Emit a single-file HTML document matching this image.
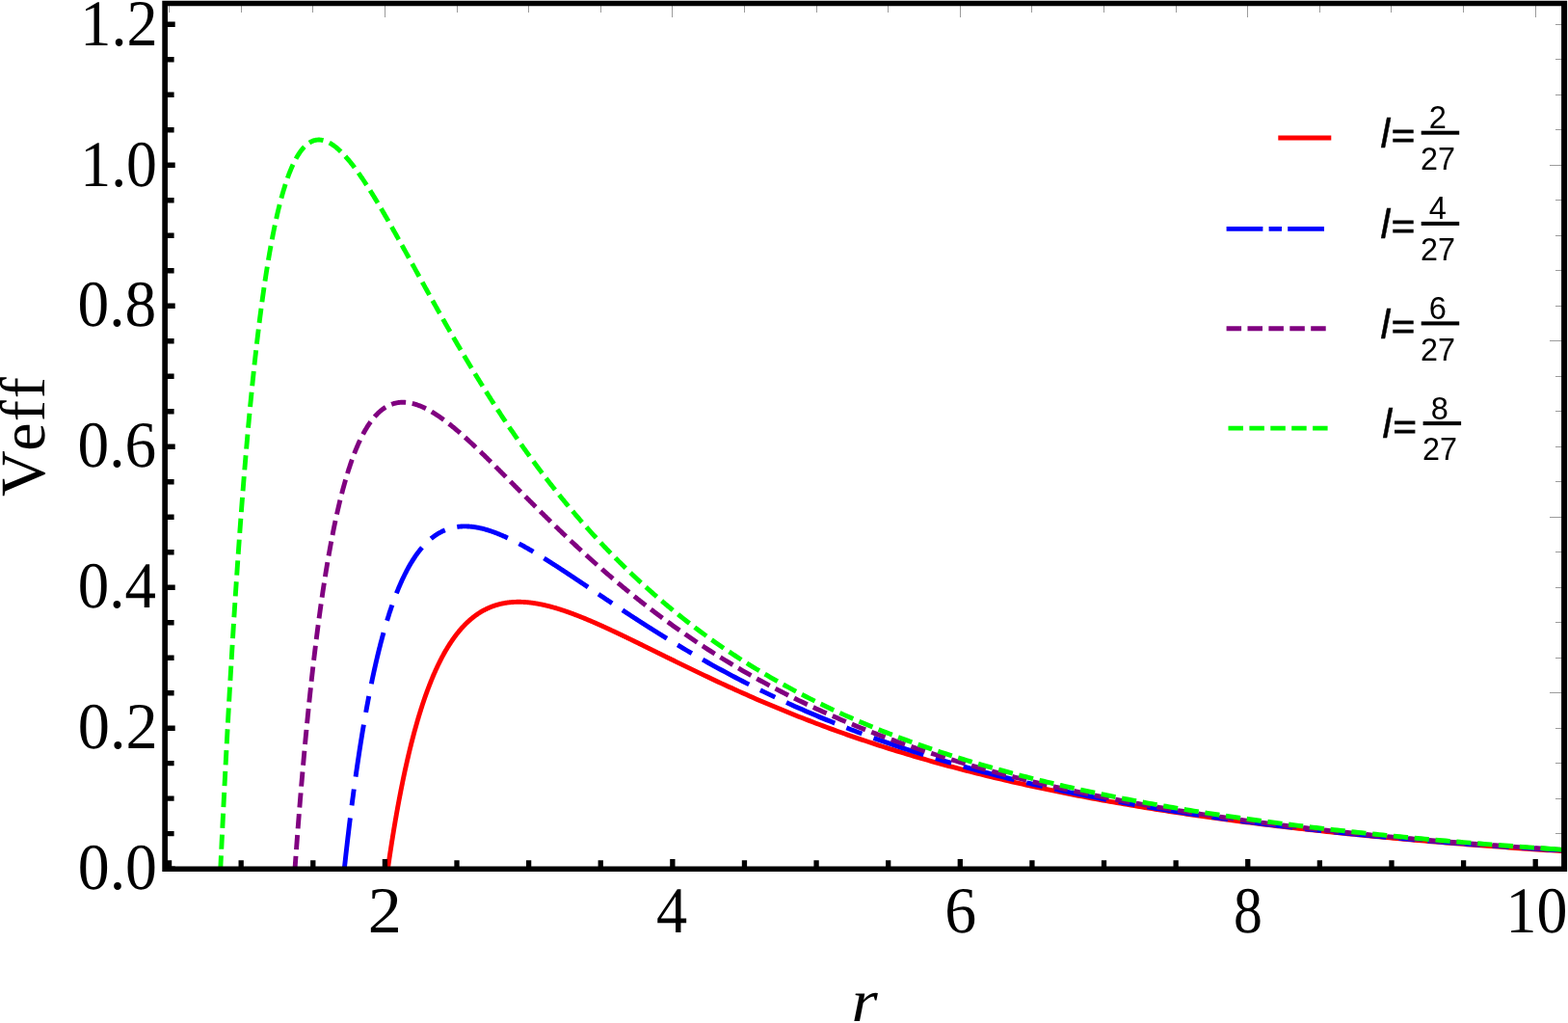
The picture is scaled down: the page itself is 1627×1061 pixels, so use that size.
<!DOCTYPE html>
<html lang="en"><head><meta charset="utf-8"><title>Veff vs r</title>
<style>html,body{margin:0;padding:0;background:#fff;}body{width:1627px;height:1061px;overflow:hidden;}svg{display:block;}.t{font-family:"Liberation Serif","Times New Roman",serif;font-size:66px;fill:#000;font-kerning:none;font-variant-ligatures:none;text-rendering:geometricPrecision;}.l{font-family:"Liberation Sans",Arial,sans-serif;fill:#000;font-kerning:none;font-variant-ligatures:none;}</style></head><body>
<svg width="1627" height="1061" viewBox="0 0 1627 1061">
<rect width="1627" height="1061" fill="#fff"/>
<defs><clipPath id="c"><rect x="171.1" y="3.45" width="1452.1" height="900.25"/></clipPath></defs>
<g clip-path="url(#c)" fill="none" stroke-width="4.9" stroke-linejoin="round">
<path d="M402.06,903.60 L402.48,900.62 L402.91,897.67 L403.33,894.75 L403.75,891.86 L404.18,889.00 L404.60,886.17 L405.02,883.37 L405.45,880.60 L405.87,877.85 L406.29,875.13 L406.72,872.44 L407.14,869.78 L407.56,867.14 L407.99,864.53 L408.41,861.95 L408.83,859.39 L409.26,856.86 L409.68,854.35 L410.10,851.87 L410.53,849.41 L410.95,846.97 L411.37,844.56 L411.80,842.18 L412.22,839.82 L412.64,837.48 L413.07,835.16 L413.49,832.87 L413.91,830.60 L414.34,828.35 L414.76,826.12 L415.18,823.92 L415.61,821.74 L416.03,819.57 L416.45,817.43 L416.88,815.32 L417.30,813.22 L417.72,811.14 L418.15,809.08 L418.57,807.04 L418.99,805.03 L419.42,803.03 L419.84,801.05 L420.26,799.09 L420.69,797.15 L421.11,795.23 L421.53,793.33 L421.96,791.44 L422.38,789.58 L422.80,787.73 L423.23,785.90 L423.65,784.08 L424.07,782.29 L424.50,780.51 L424.92,778.75 L425.34,777.01 L425.77,775.28 L426.19,773.57 L426.61,771.88 L427.04,770.20 L427.46,768.54 L427.88,766.90 L428.31,765.27 L428.73,763.66 L429.15,762.06 L429.58,760.48 L430.00,758.91 L430.42,757.36 L430.84,755.82 L431.27,754.30 L431.69,752.79 L432.11,751.30 L432.54,749.82 L432.96,748.36 L433.38,746.91 L433.81,745.47 L434.23,744.05 L434.65,742.64 L435.08,741.24 L435.50,739.86 L435.92,738.50 L436.35,737.14 L436.77,735.80 L437.19,734.47 L437.62,733.15 L438.04,731.85 L438.46,730.56 L438.89,729.28 L439.31,728.02 L439.73,726.76 L440.16,725.52 L440.58,724.29 L441.00,723.07 L441.43,721.87 L441.85,720.68 L442.27,719.49 L442.70,718.32 L443.12,717.16 L443.54,716.02 L443.97,714.88 L444.39,713.75 L444.81,712.64 L445.24,711.53 L445.66,710.44 L446.08,709.36 L446.51,708.29 L446.93,707.23 L447.35,706.18 L447.78,705.13 L448.20,704.10 L448.62,703.08 L449.05,702.07 L449.47,701.07 L449.89,700.08 L450.32,699.10 L450.74,698.13 L451.16,697.17 L451.59,696.22 L452.01,695.28 L452.43,694.35 L452.86,693.42 L453.28,692.51 L453.70,691.60 L454.13,690.71 L454.55,689.82 L454.97,688.94 L455.40,688.07 L455.82,687.21 L456.24,686.36 L456.67,685.52 L457.09,684.68 L457.51,683.86 L457.94,683.04 L458.36,682.23 L458.78,681.43 L459.21,680.64 L459.63,679.85 L460.05,679.07 L460.48,678.31 L460.90,677.54 L461.32,676.79 L461.74,676.05 L462.17,675.31 L462.59,674.58 L463.01,673.86 L463.44,673.14 L463.86,672.43 L464.28,671.73 L464.71,671.04 L465.13,670.36 L465.55,669.68 L465.98,669.01 L466.40,668.34 L466.82,667.69 L467.25,667.04 L467.67,666.39 L468.09,665.76 L468.52,665.13 L468.94,664.51 L469.36,663.89 L469.79,663.28 L470.21,662.68 L470.63,662.08 L471.06,661.49 L471.48,660.91 L471.90,660.33 L472.33,659.76 L472.75,659.20 L473.17,658.64 L473.60,658.09 L474.02,657.54 L474.44,657.01 L474.87,656.47 L475.29,655.94 L475.71,655.42 L476.14,654.91 L476.56,654.40 L476.98,653.89 L477.41,653.40 L477.83,652.90 L478.25,652.42 L478.68,651.94 L479.10,651.46 L479.52,650.99 L479.95,650.53 L480.37,650.07 L480.79,649.61 L481.22,649.17 L481.64,648.72 L482.06,648.29 L482.49,647.85 L482.91,647.43 L483.33,647.00 L483.76,646.59 L484.18,646.18 L484.60,645.77 L485.03,645.37 L485.45,644.97 L485.87,644.58 L486.30,644.19 L486.72,643.81 L487.14,643.43 L487.57,643.06 L487.99,642.69 L488.41,642.33 L488.84,641.97 L489.26,641.62 L489.68,641.27 L490.11,640.92 L490.53,640.58 L490.95,640.25 L491.38,639.91 L491.80,639.59 L492.22,639.27 L492.65,638.95 L493.07,638.63 L493.49,638.32 L493.91,638.02 L494.34,637.72 L494.76,637.42 L495.18,637.13 L495.61,636.84 L496.03,636.55 L496.45,636.27 L496.88,636.00 L497.30,635.73 L497.72,635.46 L498.15,635.19 L498.57,634.93 L498.99,634.68 L499.42,634.42 L499.84,634.17 L500.26,633.93 L500.69,633.69 L501.11,633.45 L501.53,633.21 L501.96,632.98 L502.38,632.76 L502.80,632.53 L503.23,632.31 L503.65,632.10 L504.07,631.89 L504.50,631.68 L504.92,631.47 L505.34,631.27 L505.77,631.07 L506.19,630.88 L506.61,630.68 L507.04,630.49 L507.46,630.31 L507.88,630.13 L508.31,629.95 L508.73,629.77 L509.15,629.60 L509.58,629.43 L510.00,629.27 L510.42,629.10 L510.85,628.95 L511.27,628.79 L511.69,628.64 L512.12,628.49 L512.54,628.34 L512.96,628.19 L513.39,628.05 L513.81,627.91 L514.23,627.78 L514.66,627.65 L515.08,627.52 L515.50,627.39 L515.93,627.27 L516.35,627.15 L516.77,627.03 L517.20,626.91 L517.62,626.80 L518.04,626.69 L518.47,626.58 L518.89,626.48 L519.31,626.38 L519.74,626.28 L520.16,626.18 L520.58,626.09 L521.01,626.00 L521.43,625.91 L521.85,625.82 L522.28,625.74 L522.70,625.66 L523.12,625.58 L523.55,625.51 L523.97,625.43 L524.39,625.36 L524.81,625.29 L525.24,625.23 L525.66,625.16 L526.08,625.10 L526.51,625.04 L526.93,624.99 L527.35,624.93 L527.78,624.88 L528.20,624.83 L528.62,624.79 L529.05,624.74 L529.47,624.70 L529.89,624.66 L530.32,624.62 L530.74,624.58 L531.16,624.55 L531.59,624.52 L532.01,624.49 L532.43,624.46 L532.86,624.44 L533.28,624.41 L533.70,624.39 L534.13,624.37 L534.55,624.35 L534.97,624.34 L535.40,624.33 L535.82,624.32 L536.24,624.31 L536.67,624.30 L537.09,624.29 L537.51,624.29 L537.94,624.29 L538.36,624.29 L538.78,624.29 L539.21,624.30 L539.63,624.30 L540.05,624.31 L540.48,624.32 L540.90,624.33 L541.32,624.35 L541.75,624.36 L542.17,624.38 L542.59,624.40 L543.02,624.42 L543.44,624.44 L543.86,624.47 L544.29,624.49 L544.71,624.52 L545.13,624.55 L545.56,624.58 L545.98,624.61 L546.40,624.65 L546.83,624.68 L547.25,624.72 L547.67,624.76 L548.10,624.80 L548.52,624.84 L548.94,624.89 L549.37,624.93 L549.79,624.98 L550.21,625.03 L550.64,625.08 L551.06,625.13 L551.48,625.18 L551.91,625.24 L552.33,625.30 L552.75,625.35 L553.18,625.41 L553.60,625.47 L554.02,625.54 L554.45,625.60 L554.87,625.66 L555.29,625.73 L555.72,625.80 L556.14,625.87 L556.56,625.94 L556.98,626.01 L557.41,626.08 L557.83,626.16 L558.25,626.23 L558.68,626.31 L559.10,626.39 L559.52,626.47 L559.95,626.55 L560.37,626.63 L560.79,626.71 L561.22,626.80 L561.64,626.88 L562.06,626.97 L562.49,627.06 L562.91,627.15 L563.33,627.24 L563.76,627.33 L564.18,627.43 L564.60,627.52 L565.03,627.62 L565.45,627.71 L565.87,627.81 L566.30,627.91 L566.72,628.01 L567.14,628.11 L567.57,628.21 L567.99,628.32 L568.41,628.42 L568.84,628.53 L569.26,628.64 L569.68,628.74 L570.11,628.85 L570.53,628.96 L570.95,629.07 L571.38,629.19 L571.80,629.30 L572.22,629.41 L572.65,629.53 L573.07,629.64 L573.49,629.76 L573.92,629.88 L574.34,630.00 L574.76,630.12 L575.19,630.24 L575.61,630.36 L576.03,630.48 L576.46,630.61 L576.88,630.73 L577.30,630.86 L577.73,630.99 L578.15,631.11 L578.57,631.24 L579.00,631.37 L579.42,631.50 L579.84,631.63 L580.27,631.76 L580.69,631.90 L581.11,632.03 L581.54,632.17 L581.96,632.30 L582.38,632.44 L582.81,632.57 L583.23,632.71 L583.65,632.85 L584.08,632.99 L584.50,633.13 L584.92,633.27 L585.35,633.41 L585.77,633.56 L586.19,633.70 L586.62,633.84 L587.04,633.99 L587.46,634.13 L587.88,634.28 L588.31,634.43 L588.73,634.58 L589.15,634.72 L589.58,634.87 L590.00,635.02 L590.42,635.17 L590.85,635.33 L591.27,635.48 L591.69,635.63 L592.12,635.78 L592.54,635.94 L592.96,636.09 L593.39,636.25 L593.81,636.40 L594.23,636.56 L594.66,636.72 L595.08,636.88 L595.50,637.04 L595.93,637.20 L596.35,637.36 L596.77,637.52 L597.20,637.68 L597.62,637.84 L598.04,638.00 L598.47,638.16 L598.89,638.33 L599.31,638.49 L599.74,638.66 L600.16,638.82 L600.58,638.99 L601.01,639.16 L601.43,639.32 L601.85,639.49 L602.28,639.66 L602.70,639.83 L603.12,640.00 L603.55,640.17 L603.97,640.34 L604.39,640.51 L604.82,640.68 L605.24,640.85 L605.66,641.02 L606.09,641.20 L606.51,641.37 L606.93,641.54 L607.36,641.72 L607.78,641.89 L608.20,642.07 L608.63,642.24 L609.05,642.42 L609.47,642.60 L609.90,642.77 L610.32,642.95 L610.74,643.13 L611.17,643.31 L611.59,643.49 L612.01,643.67 L612.44,643.85 L612.86,644.03 L613.28,644.21 L613.71,644.39 L614.13,644.57 L614.55,644.75 L614.98,644.93 L615.40,645.12 L615.82,645.30 L616.25,645.48 L616.67,645.67 L617.09,645.85 L617.52,646.04 L617.94,646.22 L618.36,646.41 L618.79,646.59 L619.21,646.78 L619.63,646.96 L620.05,647.15 L620.48,647.34 L620.90,647.53 L621.32,647.71 L621.75,647.90 L622.17,648.09 L622.59,648.28 L623.02,648.47 L623.44,648.66 L623.86,648.85 L624.29,649.04 L624.71,649.23 L625.13,649.42 L625.56,649.61 L625.98,649.80 L626.40,650.00 L626.83,650.19 L627.25,650.38 L627.67,650.57 L628.10,650.77 L628.52,650.96 L628.94,651.15 L629.37,651.35 L629.79,651.54 L630.21,651.73 L630.64,651.93 L631.06,652.12 L631.48,652.32 L631.91,652.52 L632.33,652.71 L632.75,652.91 L633.18,653.10 L633.60,653.30 L634.02,653.50 L634.45,653.69 L634.87,653.89 L635.29,654.09 L635.72,654.29 L636.14,654.48 L636.56,654.68 L636.99,654.88 L637.41,655.08 L637.83,655.28 L638.26,655.48 L638.68,655.68 L639.10,655.87 L639.53,656.07 L639.95,656.27 L640.37,656.47 L640.80,656.67 L641.22,656.87 L641.64,657.08 L642.07,657.28 L642.49,657.48 L642.91,657.68 L643.34,657.88 L643.76,658.08 L644.18,658.28 L644.61,658.48 L645.03,658.69 L645.45,658.89 L645.88,659.09 L646.30,659.29 L646.72,659.50 L647.15,659.70 L647.57,659.90 L647.99,660.10 L648.42,660.31 L648.84,660.51 L649.26,660.71 L649.69,660.92 L650.11,661.12 L650.53,661.33 L650.95,661.53 L651.38,661.73 L651.80,661.94 L652.22,662.14 L652.65,662.35 L653.07,662.55 L653.49,662.76 L653.92,662.96 L654.34,663.17 L654.76,663.37 L655.19,663.58 L655.61,663.78 L656.03,663.99 L656.46,664.20 L656.88,664.40 L657.30,664.61 L657.73,664.81 L658.15,665.02 L658.57,665.22 L659.00,665.43 L659.42,665.64 L659.84,665.84 L660.27,666.05 L660.69,666.26 L661.11,666.46 L661.54,666.67 L661.96,666.88 L662.38,667.08 L662.81,667.29 L663.23,667.50 L663.65,667.71 L664.08,667.91 L664.50,668.12 L664.92,668.33 L665.35,668.53 L665.77,668.74 L666.19,668.95 L666.62,669.16 L667.04,669.36 L667.46,669.57 L667.89,669.78 L668.31,669.99 L668.73,670.20 L669.16,670.40 L669.58,670.61 L670.00,670.82 L670.43,671.03 L670.85,671.23 L671.27,671.44 L671.70,671.65 L672.12,671.86 L672.54,672.07 L672.97,672.28 L673.39,672.48 L673.81,672.69 L674.24,672.90 L674.66,673.11 L675.08,673.32 L675.51,673.53 L675.93,673.73 L676.35,673.94 L676.78,674.15 L677.20,674.36 L677.62,674.57 L678.05,674.78 L678.47,674.98 L678.89,675.19 L679.32,675.40 L679.74,675.61 L680.16,675.82 L680.59,676.03 L681.01,676.23 L681.43,676.44 L681.86,676.65 L682.28,676.86 L682.70,677.07 L683.12,677.28 L683.55,677.49 L683.97,677.69 L684.39,677.90 L684.82,678.11 L685.24,678.32 L685.66,678.53 L686.09,678.74 L686.51,678.94 L686.93,679.15 L687.36,679.36 L687.78,679.57 L688.20,679.78 L688.63,679.99 L689.05,680.19 L689.47,680.40 L689.90,680.61 L690.32,680.82 L690.74,681.03 L691.17,681.23 L691.59,681.44 L692.01,681.65 L692.44,681.86 L692.86,682.07 L693.28,682.27 L693.71,682.48 L694.13,682.69 L694.55,682.90 L694.98,683.11 L695.40,683.31 L695.82,683.52 L696.25,683.73 L696.67,683.94 L697.09,684.14 L697.52,684.35 L697.94,684.56 L701.57,686.34 L705.20,688.11 L708.83,689.88 L712.46,691.64 L716.09,693.39 L719.72,695.14 L723.35,696.89 L726.98,698.62 L730.61,700.35 L734.24,702.07 L737.87,703.78 L741.50,705.48 L745.13,707.18 L748.76,708.86 L752.39,710.53 L756.01,712.20 L759.64,713.85 L763.27,715.49 L766.90,717.13 L770.53,718.75 L774.16,720.36 L777.79,721.96 L781.42,723.55 L785.05,725.13 L788.68,726.69 L792.31,728.25 L795.94,729.79 L799.57,731.32 L803.20,732.84 L806.83,734.35 L810.46,735.85 L814.09,737.33 L817.72,738.81 L821.35,740.27 L824.98,741.72 L828.61,743.16 L832.24,744.59 L835.87,746.00 L839.50,747.40 L843.13,748.80 L846.76,750.18 L850.39,751.54 L854.02,752.90 L857.65,754.25 L861.28,755.58 L864.91,756.90 L868.53,758.21 L872.16,759.51 L875.79,760.80 L879.42,762.08 L883.05,763.34 L886.68,764.59 L890.31,765.84 L893.94,767.07 L897.57,768.29 L901.20,769.50 L904.83,770.70 L908.46,771.89 L912.09,773.07 L915.72,774.24 L919.35,775.39 L922.98,776.54 L926.61,777.68 L930.24,778.80 L933.87,779.92 L937.50,781.03 L941.13,782.12 L944.76,783.21 L948.39,784.28 L952.02,785.35 L955.65,786.41 L959.28,787.45 L962.91,788.49 L966.54,789.52 L970.17,790.54 L973.80,791.55 L977.43,792.55 L981.05,793.54 L984.68,794.52 L988.31,795.49 L991.94,796.46 L995.57,797.41 L999.20,798.36 L1002.83,799.30 L1006.46,800.23 L1010.09,801.15 L1013.72,802.06 L1017.35,802.97 L1020.98,803.86 L1024.61,804.75 L1028.24,805.63 L1031.87,806.50 L1035.50,807.37 L1039.13,808.23 L1042.76,809.07 L1046.39,809.92 L1050.02,810.75 L1053.65,811.58 L1057.28,812.39 L1060.91,813.20 L1064.54,814.01 L1068.17,814.81 L1071.80,815.59 L1075.43,816.38 L1079.06,817.15 L1082.69,817.92 L1086.32,818.68 L1089.94,819.44 L1093.57,820.19 L1097.20,820.93 L1100.83,821.66 L1104.46,822.39 L1108.09,823.11 L1111.72,823.83 L1115.35,824.54 L1118.98,825.24 L1122.61,825.94 L1126.24,826.63 L1129.87,827.31 L1133.50,827.99 L1137.13,828.66 L1140.76,829.33 L1144.39,829.99 L1148.02,830.64 L1151.65,831.29 L1155.28,831.94 L1158.91,832.57 L1162.54,833.21 L1166.17,833.83 L1169.80,834.45 L1173.43,835.07 L1177.06,835.68 L1180.69,836.29 L1184.32,836.89 L1187.95,837.48 L1191.58,838.07 L1195.21,838.66 L1198.84,839.24 L1202.46,839.81 L1206.09,840.38 L1209.72,840.95 L1213.35,841.51 L1216.98,842.06 L1220.61,842.61 L1224.24,843.16 L1227.87,843.70 L1231.50,844.24 L1235.13,844.77 L1238.76,845.30 L1242.39,845.82 L1246.02,846.34 L1249.65,846.85 L1253.28,847.36 L1256.91,847.87 L1260.54,848.37 L1264.17,848.87 L1267.80,849.36 L1271.43,849.85 L1275.06,850.34 L1278.69,850.82 L1282.32,851.30 L1285.95,851.77 L1289.58,852.24 L1293.21,852.71 L1296.84,853.17 L1300.47,853.63 L1304.10,854.08 L1307.73,854.53 L1311.36,854.98 L1314.98,855.42 L1318.61,855.86 L1322.24,856.30 L1325.87,856.73 L1329.50,857.16 L1333.13,857.59 L1336.76,858.01 L1340.39,858.43 L1344.02,858.84 L1347.65,859.26 L1351.28,859.66 L1354.91,860.07 L1358.54,860.47 L1362.17,860.87 L1365.80,861.27 L1369.43,861.66 L1373.06,862.05 L1376.69,862.44 L1380.32,862.82 L1383.95,863.20 L1387.58,863.58 L1391.21,863.95 L1394.84,864.33 L1398.47,864.70 L1402.10,865.06 L1405.73,865.42 L1409.36,865.78 L1412.99,866.14 L1416.62,866.50 L1420.25,866.85 L1423.88,867.20 L1427.50,867.54 L1431.13,867.89 L1434.76,868.23 L1438.39,868.57 L1442.02,868.90 L1445.65,869.24 L1449.28,869.57 L1452.91,869.90 L1456.54,870.22 L1460.17,870.55 L1463.80,870.87 L1467.43,871.19 L1471.06,871.50 L1474.69,871.82 L1478.32,872.13 L1481.95,872.44 L1485.58,872.74 L1489.21,873.05 L1492.84,873.35 L1496.47,873.65 L1500.10,873.95 L1503.73,874.24 L1507.36,874.54 L1510.99,874.83 L1514.62,875.12 L1518.25,875.40 L1521.88,875.69 L1525.51,875.97 L1529.14,876.25 L1532.77,876.53 L1536.40,876.81 L1540.02,877.08 L1543.65,877.35 L1547.28,877.62 L1550.91,877.89 L1554.54,878.16 L1558.17,878.42 L1561.80,878.68 L1565.43,878.95 L1569.06,879.20 L1572.69,879.46 L1576.32,879.72 L1579.95,879.97 L1583.58,880.22 L1587.21,880.47 L1590.84,880.72 L1594.47,880.96 L1598.10,881.21 L1601.73,881.45 L1605.36,881.69 L1608.99,881.93 L1612.62,882.17 L1616.25,882.40 L1619.88,882.64 L1623.51,882.87 L1627.14,883.10 L1630.77,883.33 L1634.40,883.56 L1638.03,883.78" stroke="#ff0000"/>
<path d="M357.03,903.60 L357.52,899.08 L358.01,894.61 L358.49,890.19 L358.98,885.82 L359.47,881.50 L359.96,877.22 L360.44,872.99 L360.93,868.81 L361.42,864.67 L361.91,860.58 L362.39,856.53 L362.88,852.52 L363.37,848.57 L363.86,844.65 L364.35,840.78 L364.83,836.95 L365.32,833.16 L365.81,829.41 L366.30,825.71 L366.78,822.04 L367.27,818.42 L367.76,814.84 L368.25,811.29 L368.73,807.79 L369.22,804.32 L369.71,800.89 L370.20,797.50 L370.69,794.15 L371.17,790.84 L371.66,787.56 L372.15,784.32 L372.64,781.11 L373.12,777.94 L373.61,774.81 L374.10,771.71 L374.59,768.64 L375.08,765.61 L375.56,762.62 L376.05,759.65 L376.54,756.72 L377.03,753.83 L377.51,750.96 L378.00,748.13 L378.49,745.33 L378.98,742.56 L379.46,739.83 L379.95,737.12 L380.44,734.44 L380.93,731.80 L381.42,729.18 L381.90,726.60 L382.39,724.04 L382.88,721.51 L383.37,719.01 L383.85,716.54 L384.34,714.10 L384.83,711.69 L385.32,709.30 L385.80,706.94 L386.29,704.61 L386.78,702.31 L387.27,700.03 L387.76,697.78 L388.24,695.55 L388.73,693.35 L389.22,691.18 L389.71,689.03 L390.19,686.90 L390.68,684.80 L391.17,682.73 L391.66,680.68 L392.15,678.65 L392.63,676.65 L393.12,674.67 L393.61,672.71 L394.10,670.78 L394.58,668.87 L395.07,666.98 L395.56,665.11 L396.05,663.27 L396.53,661.45 L397.02,659.65 L397.51,657.87 L398.00,656.11 L398.49,654.37 L398.97,652.66 L399.46,650.96 L399.95,649.29 L400.44,647.64 L400.92,646.00 L401.41,644.39 L401.90,642.79 L402.39,641.22 L402.87,639.66 L403.36,638.13 L403.85,636.61 L404.34,635.11 L404.83,633.63 L405.31,632.17 L405.80,630.72 L406.29,629.29 L406.78,627.89 L407.26,626.49 L407.75,625.12 L408.24,623.76 L408.73,622.43 L409.21,621.10 L409.70,619.80 L410.19,618.51 L410.68,617.24 L411.17,615.98 L411.65,614.74 L412.14,613.51 L412.63,612.31 L413.12,611.11 L413.60,609.94 L414.09,608.77 L414.58,607.63 L415.07,606.49 L415.56,605.38 L416.04,604.27 L416.53,603.19 L417.02,602.11 L417.51,601.05 L417.99,600.01 L418.48,598.98 L418.97,597.96 L419.46,596.96 L419.94,595.97 L420.43,594.99 L420.92,594.03 L421.41,593.08 L421.90,592.14 L422.38,591.22 L422.87,590.31 L423.36,589.41 L423.85,588.52 L424.33,587.65 L424.82,586.79 L425.31,585.94 L425.80,585.10 L426.28,584.28 L426.77,583.47 L427.26,582.67 L427.75,581.88 L428.24,581.10 L428.72,580.33 L429.21,579.58 L429.70,578.83 L430.19,578.10 L430.67,577.38 L431.16,576.67 L431.65,575.97 L432.14,575.28 L432.63,574.60 L433.11,573.93 L433.60,573.27 L434.09,572.62 L434.58,571.99 L435.06,571.36 L435.55,570.74 L436.04,570.13 L436.53,569.53 L437.01,568.94 L437.50,568.36 L437.99,567.80 L438.48,567.23 L438.97,566.68 L439.45,566.14 L439.94,565.61 L440.43,565.09 L440.92,564.57 L441.40,564.06 L441.89,563.57 L442.38,563.08 L442.87,562.60 L443.35,562.13 L443.84,561.66 L444.33,561.21 L444.82,560.76 L445.31,560.33 L445.79,559.90 L446.28,559.47 L446.77,559.06 L447.26,558.65 L447.74,558.25 L448.23,557.86 L448.72,557.48 L449.21,557.10 L449.70,556.74 L450.18,556.38 L450.67,556.02 L451.16,555.68 L451.65,555.34 L452.13,555.01 L452.62,554.68 L453.11,554.36 L453.60,554.05 L454.08,553.75 L454.57,553.45 L455.06,553.16 L455.55,552.88 L456.04,552.60 L456.52,552.33 L457.01,552.07 L457.50,551.81 L457.99,551.56 L458.47,551.31 L458.96,551.07 L459.45,550.84 L459.94,550.62 L460.42,550.40 L460.91,550.18 L461.40,549.97 L461.89,549.77 L462.38,549.57 L462.86,549.38 L463.35,549.20 L463.84,549.02 L464.33,548.84 L464.81,548.67 L465.30,548.51 L465.79,548.35 L466.28,548.20 L466.76,548.06 L467.25,547.91 L467.74,547.78 L468.23,547.65 L468.72,547.52 L469.20,547.40 L469.69,547.28 L470.18,547.17 L470.67,547.07 L471.15,546.96 L471.64,546.87 L472.13,546.78 L472.62,546.69 L473.11,546.61 L473.59,546.53 L474.08,546.46 L474.57,546.39 L475.06,546.32 L475.54,546.27 L476.03,546.21 L476.52,546.16 L477.01,546.11 L477.49,546.07 L477.98,546.03 L478.47,546.00 L478.96,545.97 L479.45,545.95 L479.93,545.92 L480.42,545.91 L480.91,545.89 L481.40,545.88 L481.88,545.88 L482.37,545.88 L482.86,545.88 L483.35,545.89 L483.83,545.90 L484.32,545.91 L484.81,545.93 L485.30,545.95 L485.79,545.97 L486.27,546.00 L486.76,546.03 L487.25,546.07 L487.74,546.11 L488.22,546.15 L488.71,546.20 L489.20,546.25 L489.69,546.30 L490.18,546.36 L490.66,546.41 L491.15,546.48 L491.64,546.54 L492.13,546.61 L492.61,546.68 L493.10,546.76 L493.59,546.84 L494.08,546.92 L494.56,547.00 L495.05,547.09 L495.54,547.18 L496.03,547.27 L496.52,547.37 L497.00,547.47 L497.49,547.57 L497.98,547.67 L498.47,547.78 L498.95,547.89 L499.44,548.00 L499.93,548.12 L500.42,548.24 L500.90,548.36 L501.39,548.48 L501.88,548.61 L502.37,548.74 L502.86,548.87 L503.34,549.00 L503.83,549.14 L504.32,549.28 L504.81,549.42 L505.29,549.56 L505.78,549.71 L506.27,549.86 L506.76,550.01 L507.24,550.16 L507.73,550.32 L508.22,550.47 L508.71,550.63 L509.20,550.79 L509.68,550.96 L510.17,551.13 L510.66,551.29 L511.15,551.46 L511.63,551.64 L512.12,551.81 L512.61,551.99 L513.10,552.17 L513.59,552.35 L514.07,552.53 L514.56,552.72 L515.05,552.90 L515.54,553.09 L516.02,553.28 L516.51,553.48 L517.00,553.67 L517.49,553.87 L517.97,554.07 L518.46,554.27 L518.95,554.47 L519.44,554.67 L519.93,554.88 L520.41,555.08 L520.90,555.29 L521.39,555.50 L521.88,555.72 L522.36,555.93 L522.85,556.15 L523.34,556.36 L523.83,556.58 L524.31,556.80 L524.80,557.02 L525.29,557.25 L525.78,557.47 L526.27,557.70 L526.75,557.93 L527.24,558.16 L527.73,558.39 L528.22,558.62 L528.70,558.85 L529.19,559.09 L529.68,559.33 L530.17,559.56 L530.66,559.80 L531.14,560.04 L531.63,560.29 L532.12,560.53 L532.61,560.78 L533.09,561.02 L533.58,561.27 L534.07,561.52 L534.56,561.77 L535.04,562.02 L535.53,562.27 L536.02,562.53 L536.51,562.78 L537.00,563.04 L537.48,563.29 L537.97,563.55 L538.46,563.81 L538.95,564.07 L539.43,564.33 L539.92,564.60 L540.41,564.86 L540.90,565.13 L541.38,565.39 L541.87,565.66 L542.36,565.93 L542.85,566.20 L543.34,566.47 L543.82,566.74 L544.31,567.01 L544.80,567.28 L545.29,567.56 L545.77,567.83 L546.26,568.11 L546.75,568.39 L547.24,568.66 L547.72,568.94 L548.21,569.22 L548.70,569.50 L549.19,569.79 L549.68,570.07 L550.16,570.35 L550.65,570.63 L551.14,570.92 L551.63,571.21 L552.11,571.49 L552.60,571.78 L553.09,572.07 L553.58,572.36 L554.07,572.65 L554.55,572.94 L555.04,573.23 L555.53,573.52 L556.02,573.81 L556.50,574.10 L556.99,574.40 L557.48,574.69 L557.97,574.99 L558.45,575.28 L558.94,575.58 L559.43,575.88 L559.92,576.18 L560.41,576.48 L560.89,576.77 L561.38,577.07 L561.87,577.37 L562.36,577.68 L562.84,577.98 L563.33,578.28 L563.82,578.58 L564.31,578.89 L564.79,579.19 L565.28,579.49 L565.77,579.80 L566.26,580.11 L566.75,580.41 L567.23,580.72 L567.72,581.03 L568.21,581.33 L568.70,581.64 L569.18,581.95 L569.67,582.26 L570.16,582.57 L570.65,582.88 L571.14,583.19 L571.62,583.50 L572.11,583.81 L572.60,584.12 L573.09,584.44 L573.57,584.75 L574.06,585.06 L574.55,585.37 L575.04,585.69 L575.52,586.00 L576.01,586.32 L576.50,586.63 L576.99,586.95 L577.48,587.26 L577.96,587.58 L578.45,587.90 L578.94,588.21 L579.43,588.53 L579.91,588.85 L580.40,589.17 L580.89,589.48 L581.38,589.80 L581.86,590.12 L582.35,590.44 L582.84,590.76 L583.33,591.08 L583.82,591.40 L584.30,591.72 L584.79,592.04 L585.28,592.36 L585.77,592.68 L586.25,593.00 L586.74,593.32 L587.23,593.64 L587.72,593.97 L588.20,594.29 L588.69,594.61 L589.18,594.93 L589.67,595.26 L590.16,595.58 L590.64,595.90 L591.13,596.23 L591.62,596.55 L592.11,596.87 L592.59,597.20 L593.08,597.52 L593.57,597.85 L594.06,598.17 L594.55,598.50 L595.03,598.82 L595.52,599.15 L596.01,599.47 L596.50,599.80 L596.98,600.12 L597.47,600.45 L597.96,600.77 L598.45,601.10 L598.93,601.42 L599.42,601.75 L599.91,602.08 L600.40,602.40 L600.89,602.73 L601.37,603.05 L601.86,603.38 L602.35,603.71 L602.84,604.03 L603.32,604.36 L603.81,604.69 L604.30,605.01 L604.79,605.34 L605.27,605.67 L605.76,606.00 L606.25,606.32 L606.74,606.65 L607.23,606.98 L607.71,607.30 L608.20,607.63 L608.69,607.96 L609.18,608.29 L609.66,608.61 L610.15,608.94 L610.64,609.27 L611.13,609.60 L611.62,609.92 L612.10,610.25 L612.59,610.58 L613.08,610.91 L613.57,611.23 L614.05,611.56 L614.54,611.89 L615.03,612.22 L615.52,612.54 L616.00,612.87 L616.49,613.20 L616.98,613.53 L617.47,613.85 L617.96,614.18 L618.44,614.51 L618.93,614.84 L619.42,615.16 L619.91,615.49 L620.39,615.82 L620.88,616.15 L621.37,616.47 L621.86,616.80 L622.34,617.13 L622.83,617.45 L623.32,617.78 L623.81,618.11 L624.30,618.43 L624.78,618.76 L625.27,619.09 L625.76,619.41 L626.25,619.74 L626.73,620.07 L627.22,620.39 L627.71,620.72 L628.20,621.04 L628.69,621.37 L629.17,621.70 L629.66,622.02 L630.15,622.35 L630.64,622.67 L631.12,623.00 L631.61,623.32 L632.10,623.65 L632.59,623.98 L633.07,624.30 L633.56,624.63 L634.05,624.95 L634.54,625.27 L635.03,625.60 L635.51,625.92 L636.00,626.25 L636.49,626.57 L636.98,626.90 L637.46,627.22 L637.95,627.54 L638.44,627.87 L638.93,628.19 L639.41,628.51 L639.90,628.84 L640.39,629.16 L640.88,629.48 L641.37,629.81 L641.85,630.13 L642.34,630.45 L642.83,630.77 L643.32,631.10 L643.80,631.42 L644.29,631.74 L644.78,632.06 L645.27,632.38 L645.75,632.70 L646.24,633.03 L646.73,633.35 L647.22,633.67 L647.71,633.99 L648.19,634.31 L648.68,634.63 L649.17,634.95 L649.66,635.27 L650.14,635.59 L650.63,635.91 L651.12,636.23 L651.61,636.55 L652.10,636.87 L652.58,637.18 L653.07,637.50 L653.56,637.82 L654.05,638.14 L654.53,638.46 L655.02,638.77 L655.51,639.09 L656.00,639.41 L656.48,639.73 L656.97,640.04 L657.46,640.36 L657.95,640.68 L658.44,640.99 L658.92,641.31 L659.41,641.63 L659.90,641.94 L660.39,642.26 L660.87,642.57 L661.36,642.89 L661.85,643.20 L662.34,643.52 L662.82,643.83 L663.31,644.15 L663.80,644.46 L664.29,644.77 L664.78,645.09 L665.26,645.40 L665.75,645.71 L666.24,646.03 L666.73,646.34 L667.21,646.65 L667.70,646.96 L668.19,647.27 L668.68,647.59 L669.17,647.90 L669.65,648.21 L670.14,648.52 L670.63,648.83 L671.12,649.14 L671.60,649.45 L672.09,649.76 L672.58,650.07 L673.07,650.38 L673.55,650.69 L674.04,651.00 L674.53,651.31 L675.02,651.61 L675.51,651.92 L675.99,652.23 L676.48,652.54 L676.97,652.85 L677.46,653.15 L677.94,653.46 L678.43,653.77 L678.92,654.07 L679.41,654.38 L679.89,654.69 L680.38,654.99 L680.87,655.30 L681.36,655.60 L681.85,655.91 L682.33,656.21 L682.82,656.51 L683.31,656.82 L683.80,657.12 L684.28,657.43 L684.77,657.73 L685.26,658.03 L685.75,658.34 L686.23,658.64 L686.72,658.94 L687.21,659.24 L687.70,659.54 L688.19,659.84 L688.67,660.15 L689.16,660.45 L689.65,660.75 L690.14,661.05 L690.62,661.35 L691.11,661.65 L691.60,661.95 L692.09,662.25 L692.58,662.54 L693.06,662.84 L693.55,663.14 L694.04,663.44 L694.53,663.74 L695.01,664.03 L695.50,664.33 L695.99,664.63 L696.48,664.93 L696.96,665.22 L697.45,665.52 L697.94,665.81 L701.57,668.01 L705.20,670.18 L708.83,672.34 L712.46,674.49 L716.09,676.61 L719.72,678.72 L723.35,680.82 L726.98,682.90 L730.61,684.96 L734.24,687.00 L737.87,689.03 L741.50,691.04 L745.13,693.03 L748.76,695.00 L752.39,696.96 L756.01,698.91 L759.64,700.83 L763.27,702.74 L766.90,704.63 L770.53,706.50 L774.16,708.36 L777.79,710.20 L781.42,712.02 L785.05,713.83 L788.68,715.62 L792.31,717.40 L795.94,719.15 L799.57,720.89 L803.20,722.62 L806.83,724.33 L810.46,726.02 L814.09,727.70 L817.72,729.36 L821.35,731.01 L824.98,732.64 L828.61,734.25 L832.24,735.85 L835.87,737.43 L839.50,739.00 L843.13,740.55 L846.76,742.09 L850.39,743.62 L854.02,745.13 L857.65,746.62 L861.28,748.10 L864.91,749.57 L868.53,751.02 L872.16,752.46 L875.79,753.88 L879.42,755.29 L883.05,756.68 L886.68,758.07 L890.31,759.44 L893.94,760.79 L897.57,762.13 L901.20,763.46 L904.83,764.78 L908.46,766.08 L912.09,767.37 L915.72,768.65 L919.35,769.92 L922.98,771.17 L926.61,772.41 L930.24,773.64 L933.87,774.86 L937.50,776.06 L941.13,777.26 L944.76,778.44 L948.39,779.61 L952.02,780.77 L955.65,781.91 L959.28,783.05 L962.91,784.18 L966.54,785.29 L970.17,786.39 L973.80,787.49 L977.43,788.57 L981.05,789.64 L984.68,790.70 L988.31,791.75 L991.94,792.79 L995.57,793.82 L999.20,794.84 L1002.83,795.85 L1006.46,796.86 L1010.09,797.85 L1013.72,798.83 L1017.35,799.80 L1020.98,800.76 L1024.61,801.72 L1028.24,802.66 L1031.87,803.60 L1035.50,804.52 L1039.13,805.44 L1042.76,806.35 L1046.39,807.25 L1050.02,808.14 L1053.65,809.02 L1057.28,809.90 L1060.91,810.76 L1064.54,811.62 L1068.17,812.47 L1071.80,813.31 L1075.43,814.14 L1079.06,814.97 L1082.69,815.79 L1086.32,816.60 L1089.94,817.40 L1093.57,818.19 L1097.20,818.98 L1100.83,819.76 L1104.46,820.53 L1108.09,821.30 L1111.72,822.05 L1115.35,822.80 L1118.98,823.55 L1122.61,824.28 L1126.24,825.01 L1129.87,825.74 L1133.50,826.45 L1137.13,827.16 L1140.76,827.86 L1144.39,828.56 L1148.02,829.25 L1151.65,829.93 L1155.28,830.61 L1158.91,831.28 L1162.54,831.94 L1166.17,832.60 L1169.80,833.25 L1173.43,833.90 L1177.06,834.54 L1180.69,835.17 L1184.32,835.80 L1187.95,836.42 L1191.58,837.04 L1195.21,837.65 L1198.84,838.26 L1202.46,838.86 L1206.09,839.45 L1209.72,840.04 L1213.35,840.62 L1216.98,841.20 L1220.61,841.77 L1224.24,842.34 L1227.87,842.91 L1231.50,843.46 L1235.13,844.01 L1238.76,844.56 L1242.39,845.10 L1246.02,845.64 L1249.65,846.17 L1253.28,846.70 L1256.91,847.22 L1260.54,847.74 L1264.17,848.26 L1267.80,848.77 L1271.43,849.27 L1275.06,849.77 L1278.69,850.27 L1282.32,850.76 L1285.95,851.24 L1289.58,851.72 L1293.21,852.20 L1296.84,852.68 L1300.47,853.15 L1304.10,853.61 L1307.73,854.07 L1311.36,854.53 L1314.98,854.98 L1318.61,855.43 L1322.24,855.88 L1325.87,856.32 L1329.50,856.75 L1333.13,857.19 L1336.76,857.62 L1340.39,858.04 L1344.02,858.46 L1347.65,858.88 L1351.28,859.30 L1354.91,859.71 L1358.54,860.11 L1362.17,860.52 L1365.80,860.92 L1369.43,861.31 L1373.06,861.71 L1376.69,862.10 L1380.32,862.48 L1383.95,862.87 L1387.58,863.24 L1391.21,863.62 L1394.84,863.99 L1398.47,864.36 L1402.10,864.73 L1405.73,865.09 L1409.36,865.45 L1412.99,865.81 L1416.62,866.16 L1420.25,866.52 L1423.88,866.86 L1427.50,867.21 L1431.13,867.55 L1434.76,867.89 L1438.39,868.23 L1442.02,868.56 L1445.65,868.89 L1449.28,869.22 L1452.91,869.54 L1456.54,869.86 L1460.17,870.18 L1463.80,870.50 L1467.43,870.81 L1471.06,871.12 L1474.69,871.43 L1478.32,871.74 L1481.95,872.04 L1485.58,872.34 L1489.21,872.64 L1492.84,872.94 L1496.47,873.23 L1500.10,873.52 L1503.73,873.81 L1507.36,874.09 L1510.99,874.38 L1514.62,874.66 L1518.25,874.93 L1521.88,875.21 L1525.51,875.48 L1529.14,875.76 L1532.77,876.02 L1536.40,876.29 L1540.02,876.56 L1543.65,876.82 L1547.28,877.08 L1550.91,877.34 L1554.54,877.59 L1558.17,877.85 L1561.80,878.10 L1565.43,878.35 L1569.06,878.59 L1572.69,878.84 L1576.32,879.08 L1579.95,879.32 L1583.58,879.56 L1587.21,879.80 L1590.84,880.04 L1594.47,880.27 L1598.10,880.50 L1601.73,880.73 L1605.36,880.96 L1608.99,881.18 L1612.62,881.41 L1616.25,881.63 L1619.88,881.85 L1623.51,882.07 L1627.14,882.28 L1630.77,882.50 L1634.40,882.71 L1638.03,882.92" stroke="#0000ff" stroke-dasharray="54.65 13 17.1 12.955" stroke-dashoffset="96.725"/>
<path d="M305.85,903.60 L306.41,895.78 L306.97,888.06 L307.53,880.46 L308.09,872.95 L308.65,865.55 L309.21,858.26 L309.77,851.07 L310.33,843.97 L310.89,836.98 L311.45,830.08 L312.02,823.28 L312.58,816.57 L313.14,809.96 L313.70,803.43 L314.26,797.00 L314.82,790.66 L315.38,784.41 L315.94,778.25 L316.50,772.17 L317.06,766.18 L317.63,760.27 L318.19,754.45 L318.75,748.70 L319.31,743.04 L319.87,737.46 L320.43,731.95 L320.99,726.53 L321.55,721.18 L322.11,715.91 L322.67,710.71 L323.23,705.58 L323.80,700.53 L324.36,695.55 L324.92,690.64 L325.48,685.81 L326.04,681.04 L326.60,676.34 L327.16,671.70 L327.72,667.14 L328.28,662.64 L328.84,658.20 L329.40,653.83 L329.97,649.52 L330.53,645.27 L331.09,641.09 L331.65,636.97 L332.21,632.90 L332.77,628.90 L333.33,624.95 L333.89,621.07 L334.45,617.24 L335.01,613.46 L335.58,609.74 L336.14,606.08 L336.70,602.47 L337.26,598.92 L337.82,595.41 L338.38,591.96 L338.94,588.57 L339.50,585.22 L340.06,581.92 L340.62,578.68 L341.18,575.48 L341.75,572.33 L342.31,569.23 L342.87,566.17 L343.43,563.16 L343.99,560.20 L344.55,557.28 L345.11,554.41 L345.67,551.59 L346.23,548.80 L346.79,546.06 L347.35,543.36 L347.92,540.71 L348.48,538.10 L349.04,535.52 L349.60,532.99 L350.16,530.50 L350.72,528.05 L351.28,525.64 L351.84,523.26 L352.40,520.93 L352.96,518.63 L353.53,516.37 L354.09,514.14 L354.65,511.95 L355.21,509.80 L355.77,507.68 L356.33,505.60 L356.89,503.55 L357.45,501.54 L358.01,499.56 L358.57,497.62 L359.13,495.70 L359.70,493.82 L360.26,491.97 L360.82,490.15 L361.38,488.37 L361.94,486.61 L362.50,484.89 L363.06,483.19 L363.62,481.53 L364.18,479.89 L364.74,478.28 L365.30,476.71 L365.87,475.16 L366.43,473.63 L366.99,472.14 L367.55,470.67 L368.11,469.23 L368.67,467.82 L369.23,466.43 L369.79,465.07 L370.35,463.73 L370.91,462.42 L371.47,461.14 L372.04,459.87 L372.60,458.64 L373.16,457.42 L373.72,456.23 L374.28,455.07 L374.84,453.93 L375.40,452.81 L375.96,451.71 L376.52,450.63 L377.08,449.58 L377.65,448.55 L378.21,447.54 L378.77,446.55 L379.33,445.59 L379.89,444.64 L380.45,443.71 L381.01,442.81 L381.57,441.92 L382.13,441.05 L382.69,440.21 L383.25,439.38 L383.82,438.57 L384.38,437.78 L384.94,437.01 L385.50,436.25 L386.06,435.52 L386.62,434.80 L387.18,434.10 L387.74,433.42 L388.30,432.75 L388.86,432.11 L389.42,431.47 L389.99,430.86 L390.55,430.26 L391.11,429.68 L391.67,429.11 L392.23,428.56 L392.79,428.02 L393.35,427.50 L393.91,427.00 L394.47,426.51 L395.03,426.03 L395.60,425.57 L396.16,425.13 L396.72,424.69 L397.28,424.28 L397.84,423.87 L398.40,423.48 L398.96,423.10 L399.52,422.74 L400.08,422.39 L400.64,422.05 L401.20,421.73 L401.77,421.42 L402.33,421.12 L402.89,420.83 L403.45,420.55 L404.01,420.29 L404.57,420.04 L405.13,419.80 L405.69,419.57 L406.25,419.36 L406.81,419.15 L407.37,418.96 L407.94,418.78 L408.50,418.61 L409.06,418.45 L409.62,418.30 L410.18,418.16 L410.74,418.03 L411.30,417.91 L411.86,417.80 L412.42,417.70 L412.98,417.61 L413.55,417.53 L414.11,417.46 L414.67,417.40 L415.23,417.35 L415.79,417.31 L416.35,417.28 L416.91,417.26 L417.47,417.24 L418.03,417.24 L418.59,417.24 L419.15,417.25 L419.72,417.27 L420.28,417.30 L420.84,417.34 L421.40,417.38 L421.96,417.43 L422.52,417.49 L423.08,417.56 L423.64,417.64 L424.20,417.72 L424.76,417.81 L425.32,417.91 L425.89,418.02 L426.45,418.13 L427.01,418.25 L427.57,418.38 L428.13,418.51 L428.69,418.66 L429.25,418.80 L429.81,418.96 L430.37,419.12 L430.93,419.29 L431.50,419.46 L432.06,419.64 L432.62,419.83 L433.18,420.02 L433.74,420.22 L434.30,420.43 L434.86,420.64 L435.42,420.86 L435.98,421.08 L436.54,421.31 L437.10,421.54 L437.67,421.78 L438.23,422.03 L438.79,422.28 L439.35,422.53 L439.91,422.79 L440.47,423.06 L441.03,423.33 L441.59,423.61 L442.15,423.89 L442.71,424.18 L443.27,424.47 L443.84,424.76 L444.40,425.06 L444.96,425.37 L445.52,425.68 L446.08,425.99 L446.64,426.31 L447.20,426.64 L447.76,426.96 L448.32,427.30 L448.88,427.63 L449.45,427.97 L450.01,428.32 L450.57,428.67 L451.13,429.02 L451.69,429.37 L452.25,429.73 L452.81,430.10 L453.37,430.47 L453.93,430.84 L454.49,431.21 L455.05,431.59 L455.62,431.97 L456.18,432.36 L456.74,432.75 L457.30,433.14 L457.86,433.54 L458.42,433.94 L458.98,434.34 L459.54,434.75 L460.10,435.16 L460.66,435.57 L461.22,435.98 L461.79,436.40 L462.35,436.82 L462.91,437.25 L463.47,437.67 L464.03,438.10 L464.59,438.54 L465.15,438.97 L465.71,439.41 L466.27,439.85 L466.83,440.29 L467.40,440.74 L467.96,441.19 L468.52,441.64 L469.08,442.09 L469.64,442.55 L470.20,443.01 L470.76,443.47 L471.32,443.93 L471.88,444.40 L472.44,444.87 L473.00,445.34 L473.57,445.81 L474.13,446.28 L474.69,446.76 L475.25,447.24 L475.81,447.72 L476.37,448.20 L476.93,448.69 L477.49,449.17 L478.05,449.66 L478.61,450.15 L479.17,450.64 L479.74,451.14 L480.30,451.63 L480.86,452.13 L481.42,452.63 L481.98,453.13 L482.54,453.63 L483.10,454.14 L483.66,454.64 L484.22,455.15 L484.78,455.66 L485.35,456.17 L485.91,456.68 L486.47,457.19 L487.03,457.71 L487.59,458.23 L488.15,458.74 L488.71,459.26 L489.27,459.78 L489.83,460.30 L490.39,460.83 L490.95,461.35 L491.52,461.88 L492.08,462.40 L492.64,462.93 L493.20,463.46 L493.76,463.99 L494.32,464.52 L494.88,465.05 L495.44,465.59 L496.00,466.12 L496.56,466.66 L497.12,467.19 L497.69,467.73 L498.25,468.27 L498.81,468.81 L499.37,469.35 L499.93,469.89 L500.49,470.43 L501.05,470.97 L501.61,471.52 L502.17,472.06 L502.73,472.61 L503.30,473.15 L503.86,473.70 L504.42,474.25 L504.98,474.80 L505.54,475.35 L506.10,475.90 L506.66,476.45 L507.22,477.00 L507.78,477.55 L508.34,478.10 L508.90,478.65 L509.47,479.21 L510.03,479.76 L510.59,480.32 L511.15,480.87 L511.71,481.43 L512.27,481.98 L512.83,482.54 L513.39,483.10 L513.95,483.65 L514.51,484.21 L515.07,484.77 L515.64,485.33 L516.20,485.89 L516.76,486.45 L517.32,487.01 L517.88,487.57 L518.44,488.13 L519.00,488.69 L519.56,489.25 L520.12,489.81 L520.68,490.37 L521.25,490.93 L521.81,491.49 L522.37,492.06 L522.93,492.62 L523.49,493.18 L524.05,493.75 L524.61,494.31 L525.17,494.87 L525.73,495.44 L526.29,496.00 L526.85,496.56 L527.42,497.13 L527.98,497.69 L528.54,498.26 L529.10,498.82 L529.66,499.38 L530.22,499.95 L530.78,500.51 L531.34,501.08 L531.90,501.64 L532.46,502.21 L533.02,502.77 L533.59,503.34 L534.15,503.90 L534.71,504.47 L535.27,505.03 L535.83,505.59 L536.39,506.16 L536.95,506.72 L537.51,507.29 L538.07,507.85 L538.63,508.42 L539.19,508.98 L539.76,509.54 L540.32,510.11 L540.88,510.67 L541.44,511.24 L542.00,511.80 L542.56,512.36 L543.12,512.93 L543.68,513.49 L544.24,514.05 L544.80,514.61 L545.37,515.18 L545.93,515.74 L546.49,516.30 L547.05,516.86 L547.61,517.43 L548.17,517.99 L548.73,518.55 L549.29,519.11 L549.85,519.67 L550.41,520.23 L550.97,520.79 L551.54,521.35 L552.10,521.91 L552.66,522.47 L553.22,523.03 L553.78,523.59 L554.34,524.15 L554.90,524.71 L555.46,525.26 L556.02,525.82 L556.58,526.38 L557.14,526.94 L557.71,527.49 L558.27,528.05 L558.83,528.61 L559.39,529.16 L559.95,529.72 L560.51,530.27 L561.07,530.83 L561.63,531.38 L562.19,531.93 L562.75,532.49 L563.32,533.04 L563.88,533.59 L564.44,534.15 L565.00,534.70 L565.56,535.25 L566.12,535.80 L566.68,536.35 L567.24,536.90 L567.80,537.45 L568.36,538.00 L568.92,538.55 L569.49,539.10 L570.05,539.65 L570.61,540.19 L571.17,540.74 L571.73,541.29 L572.29,541.83 L572.85,542.38 L573.41,542.93 L573.97,543.47 L574.53,544.01 L575.09,544.56 L575.66,545.10 L576.22,545.64 L576.78,546.19 L577.34,546.73 L577.90,547.27 L578.46,547.81 L579.02,548.35 L579.58,548.89 L580.14,549.43 L580.70,549.97 L581.27,550.51 L581.83,551.05 L582.39,551.58 L582.95,552.12 L583.51,552.66 L584.07,553.19 L584.63,553.73 L585.19,554.26 L585.75,554.80 L586.31,555.33 L586.87,555.86 L587.44,556.39 L588.00,556.93 L588.56,557.46 L589.12,557.99 L589.68,558.52 L590.24,559.05 L590.80,559.58 L591.36,560.10 L591.92,560.63 L592.48,561.16 L593.04,561.69 L593.61,562.21 L594.17,562.74 L594.73,563.26 L595.29,563.79 L595.85,564.31 L596.41,564.83 L596.97,565.36 L597.53,565.88 L598.09,566.40 L598.65,566.92 L599.22,567.44 L599.78,567.96 L600.34,568.48 L600.90,569.00 L601.46,569.51 L602.02,570.03 L602.58,570.55 L603.14,571.06 L603.70,571.58 L604.26,572.09 L604.82,572.61 L605.39,573.12 L605.95,573.63 L606.51,574.14 L607.07,574.66 L607.63,575.17 L608.19,575.68 L608.75,576.19 L609.31,576.69 L609.87,577.20 L610.43,577.71 L610.99,578.22 L611.56,578.72 L612.12,579.23 L612.68,579.73 L613.24,580.24 L613.80,580.74 L614.36,581.24 L614.92,581.75 L615.48,582.25 L616.04,582.75 L616.60,583.25 L617.17,583.75 L617.73,584.25 L618.29,584.75 L618.85,585.24 L619.41,585.74 L619.97,586.24 L620.53,586.73 L621.09,587.23 L621.65,587.72 L622.21,588.22 L622.77,588.71 L623.34,589.20 L623.90,589.69 L624.46,590.19 L625.02,590.68 L625.58,591.17 L626.14,591.65 L626.70,592.14 L627.26,592.63 L627.82,593.12 L628.38,593.60 L628.94,594.09 L629.51,594.57 L630.07,595.06 L630.63,595.54 L631.19,596.03 L631.75,596.51 L632.31,596.99 L632.87,597.47 L633.43,597.95 L633.99,598.43 L634.55,598.91 L635.12,599.39 L635.68,599.87 L636.24,600.34 L636.80,600.82 L637.36,601.29 L637.92,601.77 L638.48,602.24 L639.04,602.72 L639.60,603.19 L640.16,603.66 L640.72,604.13 L641.29,604.60 L641.85,605.07 L642.41,605.54 L642.97,606.01 L643.53,606.48 L644.09,606.95 L644.65,607.41 L645.21,607.88 L645.77,608.35 L646.33,608.81 L646.89,609.27 L647.46,609.74 L648.02,610.20 L648.58,610.66 L649.14,611.12 L649.70,611.58 L650.26,612.04 L650.82,612.50 L651.38,612.96 L651.94,613.42 L652.50,613.88 L653.07,614.33 L653.63,614.79 L654.19,615.24 L654.75,615.70 L655.31,616.15 L655.87,616.60 L656.43,617.06 L656.99,617.51 L657.55,617.96 L658.11,618.41 L658.67,618.86 L659.24,619.31 L659.80,619.75 L660.36,620.20 L660.92,620.65 L661.48,621.09 L662.04,621.54 L662.60,621.99 L663.16,622.43 L663.72,622.87 L664.28,623.32 L664.84,623.76 L665.41,624.20 L665.97,624.64 L666.53,625.08 L667.09,625.52 L667.65,625.96 L668.21,626.40 L668.77,626.83 L669.33,627.27 L669.89,627.70 L670.45,628.14 L671.02,628.57 L671.58,629.01 L672.14,629.44 L672.70,629.87 L673.26,630.31 L673.82,630.74 L674.38,631.17 L674.94,631.60 L675.50,632.03 L676.06,632.45 L676.62,632.88 L677.19,633.31 L677.75,633.74 L678.31,634.16 L678.87,634.59 L679.43,635.01 L679.99,635.44 L680.55,635.86 L681.11,636.28 L681.67,636.70 L682.23,637.12 L682.79,637.54 L683.36,637.96 L683.92,638.38 L684.48,638.80 L685.04,639.22 L685.60,639.64 L686.16,640.05 L686.72,640.47 L687.28,640.88 L687.84,641.30 L688.40,641.71 L688.97,642.12 L689.53,642.54 L690.09,642.95 L690.65,643.36 L691.21,643.77 L691.77,644.18 L692.33,644.59 L692.89,645.00 L693.45,645.40 L694.01,645.81 L694.57,646.22 L695.14,646.62 L695.70,647.03 L696.26,647.43 L696.82,647.84 L697.38,648.24 L697.94,648.64 L701.57,651.23 L705.20,653.79 L708.83,656.33 L712.46,658.84 L716.09,661.32 L719.72,663.77 L723.35,666.20 L726.98,668.61 L730.61,670.99 L734.24,673.34 L737.87,675.66 L741.50,677.97 L745.13,680.24 L748.76,682.50 L752.39,684.73 L756.01,686.93 L759.64,689.11 L763.27,691.27 L766.90,693.40 L770.53,695.51 L774.16,697.60 L777.79,699.66 L781.42,701.71 L785.05,703.73 L788.68,705.73 L792.31,707.70 L795.94,709.66 L799.57,711.59 L803.20,713.51 L806.83,715.40 L810.46,717.27 L814.09,719.12 L817.72,720.95 L821.35,722.76 L824.98,724.56 L828.61,726.33 L832.24,728.08 L835.87,729.82 L839.50,731.53 L843.13,733.23 L846.76,734.91 L850.39,736.57 L854.02,738.21 L857.65,739.84 L861.28,741.45 L864.91,743.04 L868.53,744.61 L872.16,746.17 L875.79,747.71 L879.42,749.23 L883.05,750.74 L886.68,752.23 L890.31,753.70 L893.94,755.16 L897.57,756.61 L901.20,758.03 L904.83,759.45 L908.46,760.85 L912.09,762.23 L915.72,763.60 L919.35,764.95 L922.98,766.29 L926.61,767.62 L930.24,768.93 L933.87,770.23 L937.50,771.51 L941.13,772.78 L944.76,774.04 L948.39,775.29 L952.02,776.52 L955.65,777.74 L959.28,778.94 L962.91,780.14 L966.54,781.32 L970.17,782.49 L973.80,783.64 L977.43,784.79 L981.05,785.92 L984.68,787.04 L988.31,788.15 L991.94,789.25 L995.57,790.34 L999.20,791.42 L1002.83,792.48 L1006.46,793.53 L1010.09,794.58 L1013.72,795.61 L1017.35,796.63 L1020.98,797.64 L1024.61,798.65 L1028.24,799.64 L1031.87,800.62 L1035.50,801.59 L1039.13,802.55 L1042.76,803.51 L1046.39,804.45 L1050.02,805.38 L1053.65,806.30 L1057.28,807.22 L1060.91,808.12 L1064.54,809.02 L1068.17,809.91 L1071.80,810.79 L1075.43,811.66 L1079.06,812.52 L1082.69,813.37 L1086.32,814.22 L1089.94,815.05 L1093.57,815.88 L1097.20,816.70 L1100.83,817.51 L1104.46,818.31 L1108.09,819.11 L1111.72,819.90 L1115.35,820.68 L1118.98,821.45 L1122.61,822.22 L1126.24,822.97 L1129.87,823.72 L1133.50,824.47 L1137.13,825.20 L1140.76,825.93 L1144.39,826.65 L1148.02,827.37 L1151.65,828.08 L1155.28,828.78 L1158.91,829.47 L1162.54,830.16 L1166.17,830.84 L1169.80,831.52 L1173.43,832.19 L1177.06,832.85 L1180.69,833.50 L1184.32,834.15 L1187.95,834.80 L1191.58,835.43 L1195.21,836.07 L1198.84,836.69 L1202.46,837.31 L1206.09,837.92 L1209.72,838.53 L1213.35,839.13 L1216.98,839.73 L1220.61,840.32 L1224.24,840.91 L1227.87,841.49 L1231.50,842.06 L1235.13,842.63 L1238.76,843.19 L1242.39,843.75 L1246.02,844.31 L1249.65,844.85 L1253.28,845.40 L1256.91,845.94 L1260.54,846.47 L1264.17,847.00 L1267.80,847.52 L1271.43,848.04 L1275.06,848.55 L1278.69,849.06 L1282.32,849.57 L1285.95,850.07 L1289.58,850.56 L1293.21,851.06 L1296.84,851.54 L1300.47,852.02 L1304.10,852.50 L1307.73,852.98 L1311.36,853.44 L1314.98,853.91 L1318.61,854.37 L1322.24,854.83 L1325.87,855.28 L1329.50,855.73 L1333.13,856.17 L1336.76,856.61 L1340.39,857.05 L1344.02,857.48 L1347.65,857.91 L1351.28,858.34 L1354.91,858.76 L1358.54,859.17 L1362.17,859.59 L1365.80,860.00 L1369.43,860.41 L1373.06,860.81 L1376.69,861.21 L1380.32,861.60 L1383.95,862.00 L1387.58,862.38 L1391.21,862.77 L1394.84,863.15 L1398.47,863.53 L1402.10,863.91 L1405.73,864.28 L1409.36,864.65 L1412.99,865.01 L1416.62,865.37 L1420.25,865.73 L1423.88,866.09 L1427.50,866.44 L1431.13,866.79 L1434.76,867.14 L1438.39,867.48 L1442.02,867.82 L1445.65,868.16 L1449.28,868.50 L1452.91,868.83 L1456.54,869.16 L1460.17,869.49 L1463.80,869.81 L1467.43,870.13 L1471.06,870.45 L1474.69,870.76 L1478.32,871.08 L1481.95,871.39 L1485.58,871.69 L1489.21,872.00 L1492.84,872.30 L1496.47,872.60 L1500.10,872.90 L1503.73,873.19 L1507.36,873.48 L1510.99,873.77 L1514.62,874.06 L1518.25,874.34 L1521.88,874.63 L1525.51,874.91 L1529.14,875.18 L1532.77,875.46 L1536.40,875.73 L1540.02,876.00 L1543.65,876.27 L1547.28,876.54 L1550.91,876.80 L1554.54,877.06 L1558.17,877.32 L1561.80,877.58 L1565.43,877.83 L1569.06,878.09 L1572.69,878.34 L1576.32,878.59 L1579.95,878.83 L1583.58,879.08 L1587.21,879.32 L1590.84,879.56 L1594.47,879.80 L1598.10,880.03 L1601.73,880.27 L1605.36,880.50 L1608.99,880.73 L1612.62,880.96 L1616.25,881.19 L1619.88,881.41 L1623.51,881.64 L1627.14,881.86 L1630.77,882.08 L1634.40,882.29 L1638.03,882.51" stroke="#800080" stroke-dasharray="15.2 6.704" stroke-dashoffset="21.314"/>
<path d="M228.67,903.60 L229.34,889.38 L230.02,875.34 L230.69,861.47 L231.36,847.79 L232.03,834.28 L232.70,820.95 L233.37,807.80 L234.04,794.82 L234.71,782.02 L235.39,769.39 L236.06,756.93 L236.73,744.65 L237.40,732.54 L238.07,720.60 L238.74,708.83 L239.41,697.23 L240.09,685.80 L240.76,674.54 L241.43,663.44 L242.10,652.51 L242.77,641.74 L243.44,631.14 L244.11,620.70 L244.78,610.42 L245.46,600.30 L246.13,590.33 L246.80,580.53 L247.47,570.88 L248.14,561.38 L248.81,552.04 L249.48,542.84 L250.16,533.80 L250.83,524.91 L251.50,516.17 L252.17,507.57 L252.84,499.11 L253.51,490.80 L254.18,482.63 L254.85,474.60 L255.53,466.71 L256.20,458.96 L256.87,451.34 L257.54,443.86 L258.21,436.51 L258.88,429.29 L259.55,422.20 L260.23,415.24 L260.90,408.40 L261.57,401.69 L262.24,395.10 L262.91,388.64 L263.58,382.29 L264.25,376.07 L264.92,369.96 L265.60,363.97 L266.27,358.09 L266.94,352.33 L267.61,346.68 L268.28,341.13 L268.95,335.70 L269.62,330.37 L270.30,325.15 L270.97,320.04 L271.64,315.02 L272.31,310.11 L272.98,305.30 L273.65,300.59 L274.32,295.98 L275.00,291.46 L275.67,287.03 L276.34,282.70 L277.01,278.47 L277.68,274.32 L278.35,270.26 L279.02,266.29 L279.69,262.41 L280.37,258.61 L281.04,254.90 L281.71,251.27 L282.38,247.73 L283.05,244.26 L283.72,240.88 L284.39,237.57 L285.07,234.34 L285.74,231.18 L286.41,228.11 L287.08,225.10 L287.75,222.17 L288.42,219.31 L289.09,216.52 L289.76,213.80 L290.44,211.15 L291.11,208.57 L291.78,206.05 L292.45,203.60 L293.12,201.21 L293.79,198.89 L294.46,196.63 L295.14,194.43 L295.81,192.29 L296.48,190.21 L297.15,188.19 L297.82,186.23 L298.49,184.33 L299.16,182.48 L299.83,180.68 L300.51,178.94 L301.18,177.26 L301.85,175.62 L302.52,174.04 L303.19,172.51 L303.86,171.03 L304.53,169.60 L305.21,168.22 L305.88,166.89 L306.55,165.60 L307.22,164.36 L307.89,163.16 L308.56,162.01 L309.23,160.91 L309.90,159.84 L310.58,158.82 L311.25,157.85 L311.92,156.91 L312.59,156.01 L313.26,155.16 L313.93,154.34 L314.60,153.56 L315.28,152.82 L315.95,152.12 L316.62,151.46 L317.29,150.83 L317.96,150.24 L318.63,149.68 L319.30,149.16 L319.97,148.67 L320.65,148.21 L321.32,147.79 L321.99,147.40 L322.66,147.04 L323.33,146.71 L324.00,146.41 L324.67,146.15 L325.35,145.91 L326.02,145.70 L326.69,145.52 L327.36,145.37 L328.03,145.25 L328.70,145.16 L329.37,145.09 L330.04,145.05 L330.72,145.03 L331.39,145.04 L332.06,145.07 L332.73,145.13 L333.40,145.21 L334.07,145.32 L334.74,145.45 L335.42,145.61 L336.09,145.78 L336.76,145.98 L337.43,146.20 L338.10,146.44 L338.77,146.70 L339.44,146.99 L340.12,147.29 L340.79,147.61 L341.46,147.96 L342.13,148.32 L342.80,148.70 L343.47,149.10 L344.14,149.52 L344.81,149.96 L345.49,150.41 L346.16,150.88 L346.83,151.37 L347.50,151.88 L348.17,152.40 L348.84,152.94 L349.51,153.49 L350.19,154.06 L350.86,154.64 L351.53,155.24 L352.20,155.86 L352.87,156.48 L353.54,157.13 L354.21,157.78 L354.88,158.45 L355.56,159.14 L356.23,159.83 L356.90,160.54 L357.57,161.27 L358.24,162.00 L358.91,162.75 L359.58,163.51 L360.26,164.28 L360.93,165.06 L361.60,165.85 L362.27,166.66 L362.94,167.47 L363.61,168.30 L364.28,169.13 L364.95,169.98 L365.63,170.84 L366.30,171.70 L366.97,172.58 L367.64,173.46 L368.31,174.36 L368.98,175.26 L369.65,176.17 L370.33,177.10 L371.00,178.02 L371.67,178.96 L372.34,179.91 L373.01,180.86 L373.68,181.82 L374.35,182.79 L375.02,183.77 L375.70,184.76 L376.37,185.75 L377.04,186.75 L377.71,187.75 L378.38,188.76 L379.05,189.78 L379.72,190.81 L380.40,191.84 L381.07,192.88 L381.74,193.92 L382.41,194.97 L383.08,196.02 L383.75,197.08 L384.42,198.15 L385.09,199.22 L385.77,200.30 L386.44,201.38 L387.11,202.47 L387.78,203.56 L388.45,204.65 L389.12,205.76 L389.79,206.86 L390.47,207.97 L391.14,209.08 L391.81,210.20 L392.48,211.32 L393.15,212.45 L393.82,213.58 L394.49,214.71 L395.17,215.85 L395.84,216.99 L396.51,218.14 L397.18,219.28 L397.85,220.43 L398.52,221.59 L399.19,222.74 L399.86,223.90 L400.54,225.07 L401.21,226.23 L401.88,227.40 L402.55,228.57 L403.22,229.74 L403.89,230.92 L404.56,232.10 L405.24,233.28 L405.91,234.46 L406.58,235.64 L407.25,236.83 L407.92,238.02 L408.59,239.21 L409.26,240.40 L409.93,241.60 L410.61,242.79 L411.28,243.99 L411.95,245.19 L412.62,246.39 L413.29,247.59 L413.96,248.79 L414.63,250.00 L415.31,251.20 L415.98,252.41 L416.65,253.62 L417.32,254.82 L417.99,256.03 L418.66,257.24 L419.33,258.45 L420.00,259.67 L420.68,260.88 L421.35,262.09 L422.02,263.31 L422.69,264.52 L423.36,265.74 L424.03,266.95 L424.70,268.17 L425.38,269.38 L426.05,270.60 L426.72,271.82 L427.39,273.03 L428.06,274.25 L428.73,275.47 L429.40,276.69 L430.07,277.90 L430.75,279.12 L431.42,280.34 L432.09,281.56 L432.76,282.77 L433.43,283.99 L434.10,285.21 L434.77,286.42 L435.45,287.64 L436.12,288.86 L436.79,290.07 L437.46,291.29 L438.13,292.50 L438.80,293.72 L439.47,294.93 L440.14,296.14 L440.82,297.36 L441.49,298.57 L442.16,299.78 L442.83,300.99 L443.50,302.20 L444.17,303.41 L444.84,304.62 L445.52,305.83 L446.19,307.03 L446.86,308.24 L447.53,309.44 L448.20,310.65 L448.87,311.85 L449.54,313.05 L450.22,314.25 L450.89,315.45 L451.56,316.65 L452.23,317.85 L452.90,319.05 L453.57,320.25 L454.24,321.44 L454.91,322.63 L455.59,323.83 L456.26,325.02 L456.93,326.21 L457.60,327.40 L458.27,328.58 L458.94,329.77 L459.61,330.95 L460.29,332.14 L460.96,333.32 L461.63,334.50 L462.30,335.68 L462.97,336.86 L463.64,338.03 L464.31,339.21 L464.98,340.38 L465.66,341.55 L466.33,342.73 L467.00,343.89 L467.67,345.06 L468.34,346.23 L469.01,347.39 L469.68,348.56 L470.36,349.72 L471.03,350.88 L471.70,352.03 L472.37,353.19 L473.04,354.35 L473.71,355.50 L474.38,356.65 L475.05,357.80 L475.73,358.95 L476.40,360.09 L477.07,361.24 L477.74,362.38 L478.41,363.52 L479.08,364.66 L479.75,365.80 L480.43,366.93 L481.10,368.07 L481.77,369.20 L482.44,370.33 L483.11,371.46 L483.78,372.59 L484.45,373.71 L485.12,374.83 L485.80,375.95 L486.47,377.07 L487.14,378.19 L487.81,379.31 L488.48,380.42 L489.15,381.53 L489.82,382.64 L490.50,383.75 L491.17,384.85 L491.84,385.96 L492.51,387.06 L493.18,388.16 L493.85,389.26 L494.52,390.35 L495.19,391.45 L495.87,392.54 L496.54,393.63 L497.21,394.72 L497.88,395.80 L498.55,396.89 L499.22,397.97 L499.89,399.05 L500.57,400.13 L501.24,401.21 L501.91,402.28 L502.58,403.35 L503.25,404.42 L503.92,405.49 L504.59,406.56 L505.27,407.62 L505.94,408.68 L506.61,409.74 L507.28,410.80 L507.95,411.85 L508.62,412.91 L509.29,413.96 L509.96,415.01 L510.64,416.06 L511.31,417.10 L511.98,418.14 L512.65,419.19 L513.32,420.23 L513.99,421.26 L514.66,422.30 L515.34,423.33 L516.01,424.36 L516.68,425.39 L517.35,426.42 L518.02,427.44 L518.69,428.46 L519.36,429.48 L520.03,430.50 L520.71,431.52 L521.38,432.53 L522.05,433.54 L522.72,434.55 L523.39,435.56 L524.06,436.57 L524.73,437.57 L525.41,438.57 L526.08,439.57 L526.75,440.57 L527.42,441.56 L528.09,442.56 L528.76,443.55 L529.43,444.54 L530.10,445.52 L530.78,446.51 L531.45,447.49 L532.12,448.47 L532.79,449.45 L533.46,450.42 L534.13,451.40 L534.80,452.37 L535.48,453.34 L536.15,454.31 L536.82,455.27 L537.49,456.24 L538.16,457.20 L538.83,458.16 L539.50,459.11 L540.17,460.07 L540.85,461.02 L541.52,461.97 L542.19,462.92 L542.86,463.87 L543.53,464.81 L544.20,465.75 L544.87,466.70 L545.55,467.63 L546.22,468.57 L546.89,469.50 L547.56,470.44 L548.23,471.37 L548.90,472.29 L549.57,473.22 L550.24,474.14 L550.92,475.07 L551.59,475.98 L552.26,476.90 L552.93,477.82 L553.60,478.73 L554.27,479.64 L554.94,480.55 L555.62,481.46 L556.29,482.36 L556.96,483.27 L557.63,484.17 L558.30,485.07 L558.97,485.96 L559.64,486.86 L560.32,487.75 L560.99,488.64 L561.66,489.53 L562.33,490.42 L563.00,491.30 L563.67,492.19 L564.34,493.07 L565.01,493.95 L565.69,494.82 L566.36,495.70 L567.03,496.57 L567.70,497.44 L568.37,498.31 L569.04,499.18 L569.71,500.04 L570.39,500.90 L571.06,501.76 L571.73,502.62 L572.40,503.48 L573.07,504.33 L573.74,505.19 L574.41,506.04 L575.08,506.88 L575.76,507.73 L576.43,508.58 L577.10,509.42 L577.77,510.26 L578.44,511.10 L579.11,511.94 L579.78,512.77 L580.46,513.60 L581.13,514.43 L581.80,515.26 L582.47,516.09 L583.14,516.92 L583.81,517.74 L584.48,518.56 L585.15,519.38 L585.83,520.20 L586.50,521.01 L587.17,521.83 L587.84,522.64 L588.51,523.45 L589.18,524.26 L589.85,525.06 L590.53,525.87 L591.20,526.67 L591.87,527.47 L592.54,528.27 L593.21,529.06 L593.88,529.86 L594.55,530.65 L595.22,531.44 L595.90,532.23 L596.57,533.02 L597.24,533.80 L597.91,534.59 L598.58,535.37 L599.25,536.15 L599.92,536.93 L600.60,537.70 L601.27,538.48 L601.94,539.25 L602.61,540.02 L603.28,540.79 L603.95,541.55 L604.62,542.32 L605.29,543.08 L605.97,543.84 L606.64,544.60 L607.31,545.36 L607.98,546.12 L608.65,546.87 L609.32,547.62 L609.99,548.37 L610.67,549.12 L611.34,549.87 L612.01,550.61 L612.68,551.36 L613.35,552.10 L614.02,552.84 L614.69,553.58 L615.37,554.31 L616.04,555.05 L616.71,555.78 L617.38,556.51 L618.05,557.24 L618.72,557.97 L619.39,558.69 L620.06,559.42 L620.74,560.14 L621.41,560.86 L622.08,561.58 L622.75,562.30 L623.42,563.01 L624.09,563.73 L624.76,564.44 L625.44,565.15 L626.11,565.86 L626.78,566.57 L627.45,567.27 L628.12,567.97 L628.79,568.68 L629.46,569.38 L630.13,570.08 L630.81,570.77 L631.48,571.47 L632.15,572.16 L632.82,572.85 L633.49,573.54 L634.16,574.23 L634.83,574.92 L635.51,575.60 L636.18,576.29 L636.85,576.97 L637.52,577.65 L638.19,578.33 L638.86,579.01 L639.53,579.68 L640.20,580.35 L640.88,581.03 L641.55,581.70 L642.22,582.37 L642.89,583.03 L643.56,583.70 L644.23,584.36 L644.90,585.03 L645.58,585.69 L646.25,586.35 L646.92,587.01 L647.59,587.66 L648.26,588.32 L648.93,588.97 L649.60,589.62 L650.27,590.27 L650.95,590.92 L651.62,591.57 L652.29,592.21 L652.96,592.86 L653.63,593.50 L654.30,594.14 L654.97,594.78 L655.65,595.42 L656.32,596.05 L656.99,596.69 L657.66,597.32 L658.33,597.95 L659.00,598.58 L659.67,599.21 L660.34,599.84 L661.02,600.46 L661.69,601.09 L662.36,601.71 L663.03,602.33 L663.70,602.95 L664.37,603.57 L665.04,604.19 L665.72,604.80 L666.39,605.42 L667.06,606.03 L667.73,606.64 L668.40,607.25 L669.07,607.86 L669.74,608.46 L670.42,609.07 L671.09,609.67 L671.76,610.27 L672.43,610.87 L673.10,611.47 L673.77,612.07 L674.44,612.67 L675.11,613.26 L675.79,613.86 L676.46,614.45 L677.13,615.04 L677.80,615.63 L678.47,616.22 L679.14,616.80 L679.81,617.39 L680.49,617.97 L681.16,618.55 L681.83,619.13 L682.50,619.71 L683.17,620.29 L683.84,620.87 L684.51,621.44 L685.18,622.02 L685.86,622.59 L686.53,623.16 L687.20,623.73 L687.87,624.30 L688.54,624.87 L689.21,625.43 L689.88,626.00 L690.56,626.56 L691.23,627.12 L691.90,627.69 L692.57,628.24 L693.24,628.80 L693.91,629.36 L694.58,629.91 L695.25,630.47 L695.93,631.02 L696.60,631.57 L697.27,632.12 L697.94,632.67 L701.57,635.62 L705.20,638.52 L708.83,641.39 L712.46,644.23 L716.09,647.03 L719.72,649.79 L723.35,652.52 L726.98,655.21 L730.61,657.87 L734.24,660.50 L737.87,663.09 L741.50,665.65 L745.13,668.18 L748.76,670.68 L752.39,673.15 L756.01,675.58 L759.64,677.99 L763.27,680.36 L766.90,682.71 L770.53,685.03 L774.16,687.32 L777.79,689.58 L781.42,691.81 L785.05,694.02 L788.68,696.20 L792.31,698.35 L795.94,700.48 L799.57,702.58 L803.20,704.66 L806.83,706.71 L810.46,708.74 L814.09,710.74 L817.72,712.72 L821.35,714.67 L824.98,716.60 L828.61,718.51 L832.24,720.40 L835.87,722.26 L839.50,724.10 L843.13,725.92 L846.76,727.72 L850.39,729.50 L854.02,731.26 L857.65,732.99 L861.28,734.71 L864.91,736.41 L868.53,738.08 L872.16,739.74 L875.79,741.38 L879.42,743.00 L883.05,744.60 L886.68,746.18 L890.31,747.74 L893.94,749.29 L897.57,750.82 L901.20,752.33 L904.83,753.83 L908.46,755.30 L912.09,756.77 L915.72,758.21 L919.35,759.64 L922.98,761.05 L926.61,762.45 L930.24,763.83 L933.87,765.20 L937.50,766.55 L941.13,767.88 L944.76,769.20 L948.39,770.51 L952.02,771.80 L955.65,773.08 L959.28,774.35 L962.91,775.60 L966.54,776.83 L970.17,778.06 L973.80,779.27 L977.43,780.47 L981.05,781.65 L984.68,782.82 L988.31,783.98 L991.94,785.13 L995.57,786.26 L999.20,787.39 L1002.83,788.50 L1006.46,789.60 L1010.09,790.68 L1013.72,791.76 L1017.35,792.82 L1020.98,793.88 L1024.61,794.92 L1028.24,795.95 L1031.87,796.97 L1035.50,797.98 L1039.13,798.98 L1042.76,799.97 L1046.39,800.95 L1050.02,801.92 L1053.65,802.88 L1057.28,803.83 L1060.91,804.77 L1064.54,805.70 L1068.17,806.62 L1071.80,807.53 L1075.43,808.44 L1079.06,809.33 L1082.69,810.21 L1086.32,811.09 L1089.94,811.95 L1093.57,812.81 L1097.20,813.66 L1100.83,814.50 L1104.46,815.33 L1108.09,816.16 L1111.72,816.97 L1115.35,817.78 L1118.98,818.58 L1122.61,819.37 L1126.24,820.16 L1129.87,820.94 L1133.50,821.71 L1137.13,822.47 L1140.76,823.22 L1144.39,823.97 L1148.02,824.71 L1151.65,825.44 L1155.28,826.17 L1158.91,826.88 L1162.54,827.60 L1166.17,828.30 L1169.80,829.00 L1173.43,829.69 L1177.06,830.37 L1180.69,831.05 L1184.32,831.72 L1187.95,832.39 L1191.58,833.05 L1195.21,833.70 L1198.84,834.35 L1202.46,834.99 L1206.09,835.62 L1209.72,836.25 L1213.35,836.88 L1216.98,837.49 L1220.61,838.11 L1224.24,838.71 L1227.87,839.31 L1231.50,839.91 L1235.13,840.50 L1238.76,841.08 L1242.39,841.66 L1246.02,842.23 L1249.65,842.80 L1253.28,843.36 L1256.91,843.92 L1260.54,844.47 L1264.17,845.02 L1267.80,845.56 L1271.43,846.10 L1275.06,846.63 L1278.69,847.16 L1282.32,847.68 L1285.95,848.20 L1289.58,848.72 L1293.21,849.23 L1296.84,849.73 L1300.47,850.23 L1304.10,850.73 L1307.73,851.22 L1311.36,851.71 L1314.98,852.19 L1318.61,852.67 L1322.24,853.14 L1325.87,853.61 L1329.50,854.08 L1333.13,854.54 L1336.76,855.00 L1340.39,855.45 L1344.02,855.90 L1347.65,856.35 L1351.28,856.79 L1354.91,857.23 L1358.54,857.66 L1362.17,858.10 L1365.80,858.52 L1369.43,858.95 L1373.06,859.37 L1376.69,859.78 L1380.32,860.20 L1383.95,860.61 L1387.58,861.01 L1391.21,861.41 L1394.84,861.81 L1398.47,862.21 L1402.10,862.60 L1405.73,862.99 L1409.36,863.38 L1412.99,863.76 L1416.62,864.14 L1420.25,864.51 L1423.88,864.89 L1427.50,865.26 L1431.13,865.62 L1434.76,865.99 L1438.39,866.35 L1442.02,866.71 L1445.65,867.06 L1449.28,867.41 L1452.91,867.76 L1456.54,868.11 L1460.17,868.45 L1463.80,868.79 L1467.43,869.13 L1471.06,869.46 L1474.69,869.80 L1478.32,870.12 L1481.95,870.45 L1485.58,870.78 L1489.21,871.10 L1492.84,871.42 L1496.47,871.73 L1500.10,872.05 L1503.73,872.36 L1507.36,872.67 L1510.99,872.97 L1514.62,873.28 L1518.25,873.58 L1521.88,873.88 L1525.51,874.17 L1529.14,874.47 L1532.77,874.76 L1536.40,875.05 L1540.02,875.34 L1543.65,875.62 L1547.28,875.90 L1550.91,876.18 L1554.54,876.46 L1558.17,876.74 L1561.80,877.01 L1565.43,877.28 L1569.06,877.55 L1572.69,877.82 L1576.32,878.09 L1579.95,878.35 L1583.58,878.61 L1587.21,878.87 L1590.84,879.13 L1594.47,879.38 L1598.10,879.64 L1601.73,879.89 L1605.36,880.14 L1608.99,880.38 L1612.62,880.63 L1616.25,880.87 L1619.88,881.12 L1623.51,881.36 L1627.14,881.59 L1630.77,881.83 L1634.40,882.06 L1638.03,882.30" stroke="#00ff00" stroke-dasharray="15.2 6.694" stroke-dashoffset="20.914"/>
<path d="M1598.70,879.68 L1601.73,879.89 L1605.36,880.14 L1608.99,880.38 L1612.62,880.63 L1616.25,880.87 L1619.88,881.12 L1623.51,881.36" stroke="#00ff00"/>
</g>
<g fill="#9c9c9c" shape-rendering="crispEdges">
<rect x="175" y="6" width="1" height="7"/>
<rect x="250" y="6" width="1" height="7"/>
<rect x="324" y="6" width="1" height="7"/>
<rect x="399" y="6" width="1" height="12"/>
<rect x="474" y="6" width="1" height="7"/>
<rect x="548" y="6" width="1" height="7"/>
<rect x="623" y="6" width="1" height="7"/>
<rect x="697" y="6" width="1" height="12"/>
<rect x="772" y="6" width="1" height="7"/>
<rect x="847" y="6" width="1" height="7"/>
<rect x="921" y="6" width="1" height="7"/>
<rect x="996" y="6" width="1" height="12"/>
<rect x="1070" y="6" width="1" height="7"/>
<rect x="1145" y="6" width="1" height="7"/>
<rect x="1220" y="6" width="1" height="7"/>
<rect x="1294" y="6" width="1" height="12"/>
<rect x="1369" y="6" width="1" height="7"/>
<rect x="1443" y="6" width="1" height="7"/>
<rect x="1518" y="6" width="1" height="7"/>
<rect x="1593" y="6" width="1" height="12"/>
<rect x="1608" y="901" width="13" height="1"/>
<rect x="1614" y="864" width="7" height="1"/>
<rect x="1614" y="828" width="7" height="1"/>
<rect x="1614" y="791" width="7" height="1"/>
<rect x="1614" y="755" width="7" height="1"/>
<rect x="1608" y="718" width="13" height="1"/>
<rect x="1614" y="682" width="7" height="1"/>
<rect x="1614" y="645" width="7" height="1"/>
<rect x="1614" y="609" width="7" height="1"/>
<rect x="1614" y="572" width="7" height="1"/>
<rect x="1608" y="536" width="13" height="1"/>
<rect x="1614" y="499" width="7" height="1"/>
<rect x="1614" y="463" width="7" height="1"/>
<rect x="1614" y="426" width="7" height="1"/>
<rect x="1614" y="390" width="7" height="1"/>
<rect x="1608" y="353" width="13" height="1"/>
<rect x="1614" y="317" width="7" height="1"/>
<rect x="1614" y="280" width="7" height="1"/>
<rect x="1614" y="244" width="7" height="1"/>
<rect x="1614" y="207" width="7" height="1"/>
<rect x="1608" y="171" width="13" height="1"/>
<rect x="1614" y="134" width="7" height="1"/>
<rect x="1614" y="98" width="7" height="1"/>
<rect x="1614" y="61" width="7" height="1"/>
<rect x="1614" y="25" width="7" height="1"/>
</g>
<path fill="#000" d="M173.00,898.45h8.70v5.4h-8.70zM173.00,861.96h7.60v5.4h-7.60zM173.00,825.46h7.60v5.4h-7.60zM173.00,788.97h7.60v5.4h-7.60zM173.00,752.48h8.70v5.4h-8.70zM173.00,715.98h7.60v5.4h-7.60zM173.00,679.49h7.60v5.4h-7.60zM173.00,643.00h7.60v5.4h-7.60zM173.00,606.51h8.70v5.4h-8.70zM173.00,570.01h7.60v5.4h-7.60zM173.00,533.52h7.60v5.4h-7.60zM173.00,497.03h7.60v5.4h-7.60zM173.00,460.53h8.70v5.4h-8.70zM173.00,424.04h7.60v5.4h-7.60zM173.00,387.55h7.60v5.4h-7.60zM173.00,351.06h7.60v5.4h-7.60zM173.00,314.56h8.70v5.4h-8.70zM173.00,278.07h7.60v5.4h-7.60zM173.00,241.58h7.60v5.4h-7.60zM173.00,205.08h7.60v5.4h-7.60zM173.00,168.59h8.70v5.4h-8.70zM173.00,132.10h7.60v5.4h-7.60zM173.00,95.60h7.60v5.4h-7.60zM173.00,59.11h7.60v5.4h-7.60zM173.00,22.62h8.70v5.4h-8.70zM172.91,899.50v-7.20h5.3v7.20zM247.52,899.50v-7.20h5.3v7.20zM322.14,899.50v-7.20h5.3v7.20zM396.75,899.50v-8.55h5.3v8.55zM471.36,899.50v-7.20h5.3v7.20zM545.98,899.50v-7.20h5.3v7.20zM620.59,899.50v-7.20h5.3v7.20zM695.20,899.50v-8.55h5.3v8.55zM769.81,899.50v-7.20h5.3v7.20zM844.43,899.50v-7.20h5.3v7.20zM919.04,899.50v-7.20h5.3v7.20zM993.65,899.50v-8.55h5.3v8.55zM1068.27,899.50v-7.20h5.3v7.20zM1142.88,899.50v-7.20h5.3v7.20zM1217.49,899.50v-7.20h5.3v7.20zM1292.11,899.50v-8.55h5.3v8.55zM1366.72,899.50v-7.20h5.3v7.20zM1441.33,899.50v-7.20h5.3v7.20zM1515.94,899.50v-7.20h5.3v7.20zM1590.56,899.50v-8.55h5.3v8.55z"/>
<path fill="#000" d="M168.3,0.85H174V903.95H168.3Z M1620.1,0.85H1626.1V903.95H1620.1Z M168.3,0.85H1626.1V6.2H168.3Z M168.3,898.5H1626.1V903.95H168.3Z"/>
<g class="t" text-anchor="end">
<text transform="translate(162.99,922.00) scale(0.9966,1.03)">0.0</text>
<text transform="translate(163.72,776.00) scale(1.0057,1.03)">0.2</text>
<text transform="translate(161.92,630.00) scale(0.9832,1.03)">0.4</text>
<text transform="translate(162.09,484.00) scale(0.989,1.03)">0.6</text>
<text transform="translate(162.17,338.00) scale(0.9901,1.03)">0.8</text>
<text transform="translate(162.96,193.00) scale(0.9655,1.03)">1.0</text>
<text transform="translate(163.61,47.00) scale(0.9739,1.03)">1.2</text>
</g>
<g class="t" text-anchor="middle">
<text transform="translate(399.29,967) scale(1.063,1.03)">2</text>
<text transform="translate(697.08,967) scale(0.9748,1.03)">4</text>
<text transform="translate(996.66,967) scale(0.9968,1.03)">6</text>
<text transform="translate(1294.82,967) scale(0.9043,1.03)">8</text>
<text transform="translate(1594.43,967) scale(0.9677,1.03)">10</text>
</g>
<text class="t" dx="0 -0.5 1.2 2.2" transform="translate(46,515) rotate(-90)">Veff</text>
<text class="t" font-style="italic" text-anchor="middle" transform="translate(897.1,1058.5) scale(1.06,0.94)">r</text>
<path d="M1326.3,143H1381.3" stroke="#ff0000" stroke-width="4.9" fill="none"/>
<g class="l" transform="translate(0,0)">
<text x="1432.5" y="152.8" font-size="43" font-style="italic" stroke="#000" stroke-width="0.5">l</text>
<text font-size="43" stroke="#000" stroke-width="1.0" transform="translate(1443.7,153.1) scale(0.975,0.88)">=</text>
<rect x="1474.7" y="135.7" width="39.5" height="4"/>
<text x="1491.9" y="133.1" font-size="32.6" text-anchor="middle">2</text>
<text x="1492.0" y="175.8" font-size="32.3" text-anchor="middle">27</text>
</g>
<path d="M1272.6,237.4H1374" stroke="#0000ff" stroke-width="4.9" fill="none" stroke-dasharray="37.8 6.2 13.4 6.2"/>
<g class="l" transform="translate(0,0)">
<text x="1432.5" y="247" font-size="43" font-style="italic" stroke="#000" stroke-width="0.5">l</text>
<text font-size="43" stroke="#000" stroke-width="1.0" transform="translate(1443.7,247.3) scale(0.975,0.88)">=</text>
<rect x="1474.7" y="229.9" width="39.5" height="4"/>
<text x="1491.9" y="227.3" font-size="32.6" text-anchor="middle">4</text>
<text x="1492.0" y="270" font-size="32.3" text-anchor="middle">27</text>
</g>
<path d="M1272.6,340.7H1375.9" stroke="#800080" stroke-width="4.9" fill="none" stroke-dasharray="15.5 6.4"/>
<g class="l" transform="translate(0,0)">
<text x="1432.5" y="350.5" font-size="43" font-style="italic" stroke="#000" stroke-width="0.5">l</text>
<text font-size="43" stroke="#000" stroke-width="1.0" transform="translate(1443.7,350.8) scale(0.975,0.88)">=</text>
<rect x="1474.7" y="333.4" width="39.5" height="4"/>
<text x="1491.9" y="330.8" font-size="32.6" text-anchor="middle">6</text>
<text x="1492.0" y="373.5" font-size="32.3" text-anchor="middle">27</text>
</g>
<path d="M1274.5,444.1H1377.6" stroke="#00ff00" stroke-width="4.9" fill="none" stroke-dasharray="15.5 6.4"/>
<g class="l" transform="translate(1.9,0)">
<text x="1432.5" y="454.2" font-size="43" font-style="italic" stroke="#000" stroke-width="0.5">l</text>
<text font-size="43" stroke="#000" stroke-width="1.0" transform="translate(1443.7,454.5) scale(0.975,0.88)">=</text>
<rect x="1474.7" y="437.1" width="39.5" height="4"/>
<text x="1491.9" y="434.5" font-size="32.6" text-anchor="middle">8</text>
<text x="1492.0" y="477.2" font-size="32.3" text-anchor="middle">27</text>
</g>
</svg></body></html>
